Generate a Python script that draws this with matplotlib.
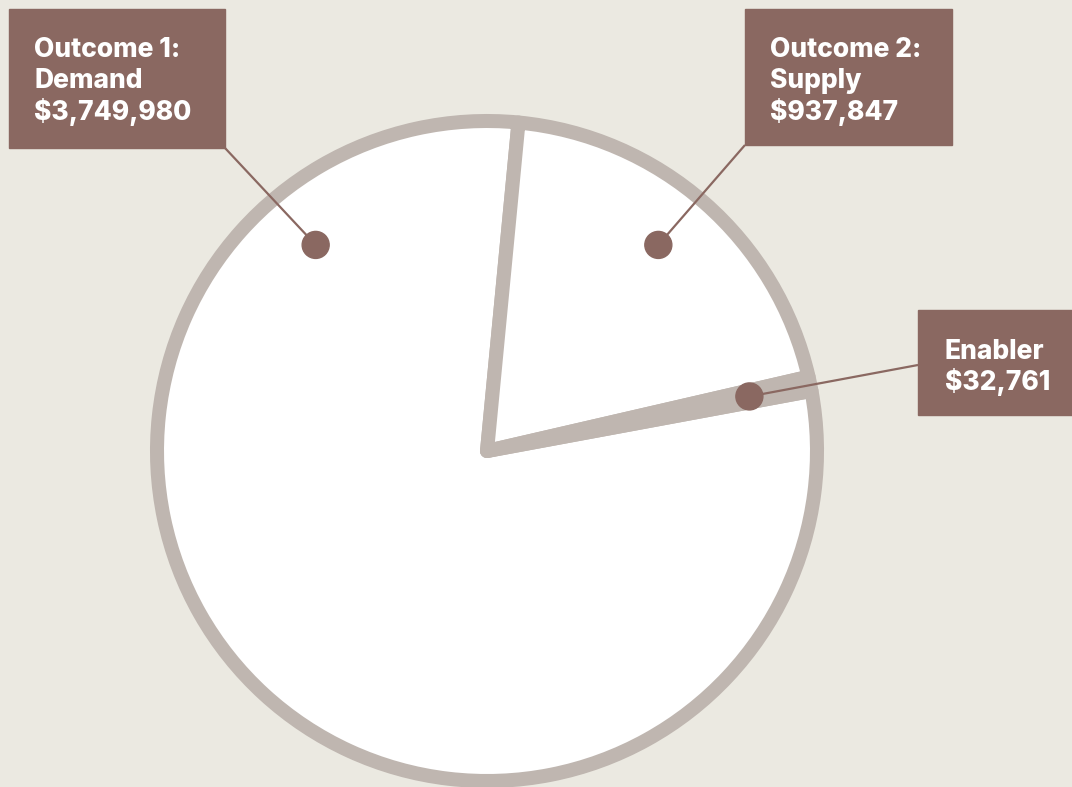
import matplotlib
matplotlib.use('Agg')
import matplotlib.pyplot as plt
from matplotlib.patches import Rectangle, Circle
import numpy as np

# Funding split shown in the reference pie
names = ['Demand', 'Supply', 'Enabler']
titles = ['Outcome 1:\nDemand', 'Outcome 2:\nSupply', 'Enabler']
values = [3749980, 937847, 32761]

W, H = 1072, 787
BG = '#ebe9e1'
EDGE = '#bfb6b0'
BROWN = '#8a6861'

plt.rcParams['font.family'] = ['Inter', 'DejaVu Sans']

fig = plt.figure(figsize=(W / 100, H / 100), dpi=100, facecolor=BG)
ax = fig.add_axes([0, 0, 1, 1])
ax.set_facecolor(BG)

# pie in pixel units (y measured upward)
cx, cy, R = 487, H - 451, 330
wedges, _ = ax.pie(values, startangle=10.5, counterclock=False, radius=R,
                   center=(cx, cy), colors=['white'] * 3,
                   wedgeprops=dict(edgecolor=EDGE, linewidth=10.1, joinstyle='round'))

ax.set_xlim(0, W)
ax.set_ylim(0, H)
ax.set_aspect('equal')
ax.axis('off')

# label layout: box (x0, y0, x1, y1) in screen px, text origin, leader start
boxes = [(9, 9, 225, 148), (745, 9, 952, 145), (918, 310, 1080, 415)]
text_xy = [(34, 57), (770, 57), (945, 359)]
leader_from = [(225, 148), (745, 145), (918, 365)]
dot_r = 268
dot_shift = [0, 1.5, 0]  # degrees, nudge from wedge centre

for i, w in enumerate(wedges):
    if i == 0:
        # demand dot mirrors the supply dot across the vertical
        s = wedges[1]
        ang = 180 - ((s.theta1 + s.theta2) / 2 + dot_shift[1])
    else:
        ang = (w.theta1 + w.theta2) / 2 + dot_shift[i]
    dx = cx + dot_r * np.cos(np.deg2rad(ang))
    dy = cy + dot_r * np.sin(np.deg2rad(ang))

    lx, ly = leader_from[i]
    ax.plot([lx, dx], [H - ly, dy], color=BROWN, lw=1.6, solid_capstyle='butt', zorder=3)
    ax.add_patch(Circle((dx, dy), 13.5, color=BROWN, zorder=4))

    x0, y0, x1, y1 = boxes[i]
    ax.add_patch(Rectangle((x0, H - y1), x1 - x0, y1 - y0, color=BROWN, zorder=5, clip_on=False))

    lines = titles[i].split('\n') + ['${:,}'.format(values[i])]
    tx, ty = text_xy[i]
    for k, s in enumerate(lines):
        ax.text(tx, H - (ty + k * 31.5), s, color='white', fontsize=19, fontweight='heavy',
                ha='left', va='baseline', zorder=6)

fig.savefig('out.png', dpi=100, facecolor=BG)
